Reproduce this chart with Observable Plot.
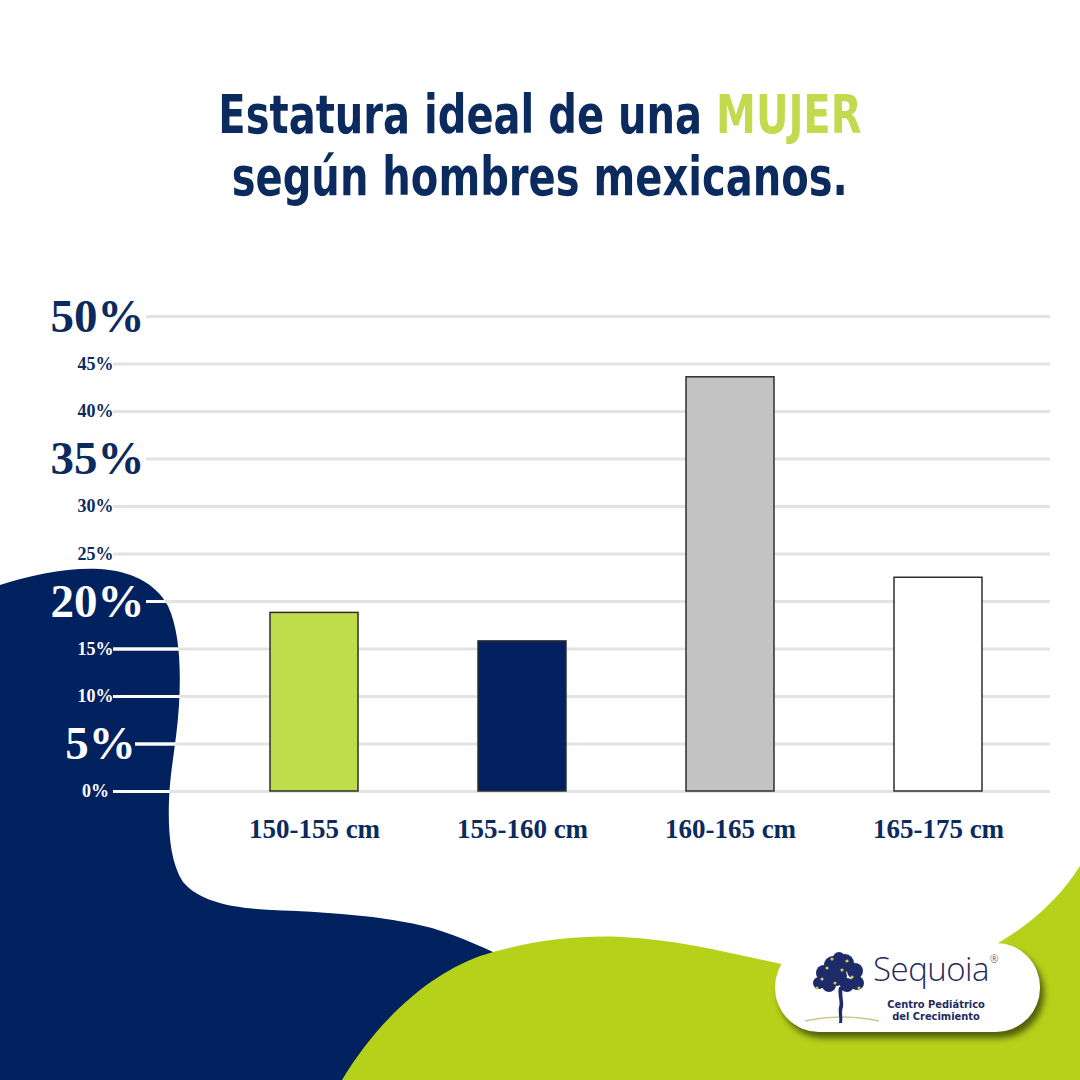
<!DOCTYPE html>
<html>
<head>
<meta charset="utf-8">
<script src="https://cdn.jsdelivr.net/npm/d3@7"></script>
<script src="https://cdn.jsdelivr.net/npm/@observablehq/plot@0.6"></script>
<style>
  html, body { margin:0; padding:0; background:#fff; }
  #stage { position:relative; width:1080px; height:1080px; overflow:hidden; background:#fff; }
  #bg, #chart { position:absolute; left:0; top:0; }
  #chart svg { display:block; }
  #title { position:absolute; left:0; top:84px; width:1080px; text-align:center;
    font-family:'Liberation Sans Narrow','DejaVu Sans Condensed',sans-serif; font-weight:bold;
    font-size:53px; line-height:62px; color:#0b2a5e; }
  #title .line { display:block; }
  #title .line span.w { display:inline-block; transform:scaleX(0.84); transform-origin:center; }
  #title .hl { color:#c3d94e; }
  #logo { position:absolute; left:775px; top:943px; width:265px; height:89px; border-radius:44px;
    background:#fff; box-shadow:4px 6px 6px rgba(0,0,0,0.55); }
  #logo .name { position:absolute; left:98px; top:11px; font-family:'Open Sans','DejaVu Sans',sans-serif;
    font-weight:300; font-size:33px; line-height:30px; letter-spacing:-0.5px; color:#1f2a5e; white-space:nowrap; }
  #logo .name sup { font-size:10px; line-height:10px; vertical-align:top; position:relative; top:0px; left:1px; }
  #logo .sub { position:absolute; left:100px; width:122px; text-align:center;
    font-family:'Liberation Sans Narrow','DejaVu Sans Condensed',sans-serif; font-weight:bold;
    font-size:11px; line-height:12px; height:12px; color:#1f2a5e; white-space:nowrap; }
  #logo .s1 { top:56px; }
  #logo .s2 { top:68px; }
</style>
</head>
<body>
<div id="stage">
  <svg id="bg" width="1080" height="1080" viewBox="0 0 1080 1080">
    <defs>
      <clipPath id="navyClip" clipPathUnits="userSpaceOnUse">
        <path d="M0,585 C30,575 70,567 100,569 C130,571 155,582 168,606 C180,632 181,670 179,705 C177,740 170,770 169,800 C168,830 170,862 183,882 C200,902 232,908 272,910 C322,912 382,915 432,928 C470,940 500,955 525,968 L560,1080 L0,1080 Z"/>
      </clipPath>
    </defs>
    <path fill="#02215f" d="M0,585 C30,575 70,567 100,569 C130,571 155,582 168,606 C180,632 181,670 179,705 C177,740 170,770 169,800 C168,830 170,862 183,882 C200,902 232,908 272,910 C322,912 382,915 432,928 C470,940 500,955 525,968 L560,1080 L0,1080 Z"/>
    <path fill="#b6d119" d="M342,1080 C372,1030 420,978 480,956 C530,940 580,935 622,937 C680,940 730,953 790,966 C850,978 930,975 995,945 C1030,925 1060,898 1080,866 L1080,1080 Z"/>
  </svg>
  <div id="chart"></div>
  <div id="title">
    <span class="line"><span class="w">Estatura ideal de una <span class="hl">MUJER</span></span></span>
    <span class="line"><span class="w">según hombres mexicanos.</span></span>
  </div>
  <div id="logo">
    <svg width="90" height="89" style="position:absolute;left:22px;top:0">
      <path d="M8,78 Q45,70 82,78" stroke="#cfc590" stroke-width="1.5" fill="none"/>
      <g fill="#1f2a6a">
        <circle cx="36" cy="22" r="9"/><circle cx="48" cy="20" r="9"/><circle cx="27" cy="30" r="8"/>
        <circle cx="58" cy="28" r="8"/><circle cx="40" cy="33" r="10"/><circle cx="22" cy="40" r="6"/>
        <circle cx="60" cy="40" r="7"/><circle cx="32" cy="42" r="7"/><circle cx="50" cy="42" r="7"/>
        <circle cx="42" cy="15" r="6"/>
      </g>
      <g fill="#b9d24a">
        <circle cx="30" cy="25" r="1.6"/><circle cx="45" cy="27" r="1.6"/><circle cx="55" cy="34" r="1.6"/>
        <circle cx="25" cy="36" r="1.6"/><circle cx="38" cy="40" r="1.6"/><circle cx="62" cy="45" r="1.6"/>
        <circle cx="20" cy="45" r="1.6"/><circle cx="50" cy="18" r="1.6"/><circle cx="35" cy="16" r="1.6"/>
      </g>
      <path d="M42,44 C40,52 44,58 42,64 C41,70 43,75 42,80 L45,80 C46,74 44,70 46,64 C47,58 44,52 46,44 Z" fill="#1f2a6a"/>
    </svg>
    <div class="name">Sequoia<sup>®</sup></div>
    <div class="sub s1">Centro Pediátrico</div>
    <div class="sub s2">del Crecimiento</div>
  </div>
</div>
<script>
// ---- data ----
const categories = ["150-155 cm", "155-160 cm", "160-165 cm", "165-175 cm"];
const values = [18.8, 15.8, 43.6, 22.5];
const barColors = ["#bfdc4a", "#022060", "#c3c3c3", "#ffffff"];
const yTicks = [0, 5, 10, 15, 20, 25, 30, 35, 40, 45, 50];
const yTickLabels = ["0%", "5%", "10%", "15%", "20%", "25%", "30%", "35%", "40%", "45%", "50%"];
const bigTicks = [5, 20, 35, 50];
const onBlobTicks = [0, 5, 10, 15, 20];

const data = categories.map((c, i) => ({category: c, value: values[i]}));
const navy = "#0b2a5e";
const serif = "'Liberation Serif','DejaVu Serif',serif";
const grid = "#e3e3e3";
const labelOf = d => yTickLabels[yTicks.indexOf(d)];

const ruleSet = (stroke) => [
  Plot.ruleY(yTicks, {filter: d => !bigTicks.includes(d) && (stroke === grid || onBlobTicks.includes(d)), stroke, strokeWidth: 3}),
  Plot.ruleY(yTicks, {filter: d => bigTicks.includes(d) && d !== 5 && (stroke === grid || onBlobTicks.includes(d)), stroke, strokeWidth: 3, insetLeft: 33}),
  Plot.ruleY(yTicks, {filter: d => d === 5, stroke, strokeWidth: 3, insetLeft: 22})
];

const yLabel = (filter, fontSize, fill, dx = -18) => Plot.text(yTicks, {
  filter, y: d => d, text: labelOf, frameAnchor: "left", dx, textAnchor: "middle",
  fontSize, fontWeight: "bold", fontFamily: serif, fill
});

const chart = Plot.plot({
  width: 1080, height: 1080,
  marginTop: 316, marginBottom: 289, marginLeft: 113, marginRight: 30,
  style: {background: "transparent", overflow: "visible"},
  x: {domain: categories, range: [207.6, 1044.4], paddingInner: 0.577, paddingOuter: 0.3, axis: null},
  y: {domain: [0, 50], axis: null},
  color: {domain: categories, range: barColors},
  marks: [
    ...ruleSet(grid),
    ...ruleSet("#fffffe"),
    Plot.barY(data, {x: "category", y: "value", fill: "category", stroke: "#2e2e2e", strokeWidth: 1.5}),
    Plot.text(categories, {x: d => d, y: () => 0, dy: 38, fontSize: 27, fontWeight: "bold", fontFamily: serif, fill: navy}),
    yLabel(d => bigTicks.includes(d) && !onBlobTicks.includes(d), 47, navy, -16),
    yLabel(d => d === 20, 47, "#ffffff", -16),
    yLabel(d => d === 5, 47, "#ffffff", -13),
    yLabel(d => !bigTicks.includes(d) && !onBlobTicks.includes(d), 18, navy),
    yLabel(d => !bigTicks.includes(d) && onBlobTicks.includes(d), 18, "#ffffff")
  ]
});
chart.querySelectorAll('[stroke="#fffffe"]').forEach(g => g.setAttribute("clip-path", "url(#navyClip)"));
document.getElementById("chart").appendChild(chart);
</script>
</body>
</html>
